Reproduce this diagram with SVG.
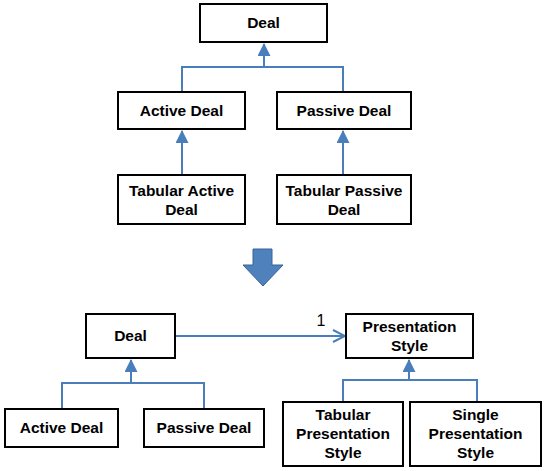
<svg xmlns="http://www.w3.org/2000/svg" width="547" height="471" viewBox="0 0 547 471">
<style>
.box{fill:#fff;stroke:#000;stroke-width:2}
.t{font-family:"Liberation Sans",Arial,sans-serif;font-weight:bold;font-size:15.5px;text-anchor:middle;fill:#000}
.c{fill:none;stroke:#4a7ebb;stroke-width:2}
</style>
<defs>
<marker id="tri" markerWidth="14" markerHeight="14" refX="12" refY="6.5" orient="auto" markerUnits="userSpaceOnUse">
<path d="M0,0 L13,6.5 L0,13 Z" fill="#4a7ebb"/>
</marker>
<marker id="open" markerWidth="14" markerHeight="14" refX="13" refY="7" orient="auto" markerUnits="userSpaceOnUse">
<path d="M1,1 L13,7 L1,13" fill="none" stroke="#4a7ebb" stroke-width="2"/>
</marker>
</defs>
<rect width="547" height="471" fill="#fff"/>
<g id="connectors">
<path class="c" d="M182,92 V67 H343 V92"/>
<path class="c" d="M264,67 V44" marker-end="url(#tri)"/>
<path class="c" d="M182,175 V131" marker-end="url(#tri)"/>
<path class="c" d="M343,175 V131" marker-end="url(#tri)"/>
<path class="c" d="M62,409 V383 H204 V409"/>
<path class="c" d="M131,383 V360" marker-end="url(#tri)"/>
<path class="c" d="M343,402 V380 H477 V402"/>
<path class="c" d="M409,380 V360" marker-end="url(#tri)"/>
<path class="c" d="M175,336 H345" marker-end="url(#open)"/>
<text x="321" y="326" style="font-family:'Liberation Sans',Arial,sans-serif;font-size:16px;text-anchor:middle">1</text>
</g>
<g id="arrow-down">
<path d="M253,249 H272 V265 H283 L263,286 L243,265 H253 Z" fill="#4f81bd" stroke="#3a6494" stroke-width="1"/>
</g>
<g id="deal-top"><rect class="box" x="200" y="4" width="127" height="38"/><text class="t" x="263.5" y="28">Deal</text></g>
<g id="active-top"><rect class="box" x="118" y="92" width="127" height="37"/><text class="t" x="181.5" y="116">Active Deal</text></g>
<g id="passive-top"><rect class="box" x="277" y="92" width="134" height="37"/><text class="t" x="344" y="116">Passive Deal</text></g>
<g id="tab-active"><rect class="box" x="118" y="175" width="127" height="49"/><text class="t" x="181.5" y="196">Tabular Active</text><text class="t" x="181.5" y="215">Deal</text></g>
<g id="tab-passive"><rect class="box" x="277" y="175" width="134" height="49"/><text class="t" x="344" y="196">Tabular Passive</text><text class="t" x="344" y="215">Deal</text></g>
<g id="deal-bottom"><rect class="box" x="86" y="314" width="89" height="44"/><text class="t" x="130.5" y="341">Deal</text></g>
<g id="active-bottom"><rect class="box" x="5" y="409" width="113" height="38"/><text class="t" x="61.5" y="433">Active Deal</text></g>
<g id="passive-bottom"><rect class="box" x="144" y="409" width="120" height="38"/><text class="t" x="204" y="433">Passive Deal</text></g>
<g id="pres-style"><rect class="box" x="346" y="314" width="127" height="44"/><text class="t" x="409.5" y="332">Presentation</text><text class="t" x="409.5" y="351">Style</text></g>
<g id="tab-pres"><rect class="box" x="283" y="402" width="120" height="64"/><text class="t" x="343" y="420">Tabular</text><text class="t" x="343" y="439">Presentation</text><text class="t" x="343" y="458">Style</text></g>
<g id="single-pres"><rect class="box" x="410" y="402" width="131" height="64"/><text class="t" x="475.5" y="420">Single</text><text class="t" x="475.5" y="439">Presentation</text><text class="t" x="475.5" y="458">Style</text></g>
</svg>
